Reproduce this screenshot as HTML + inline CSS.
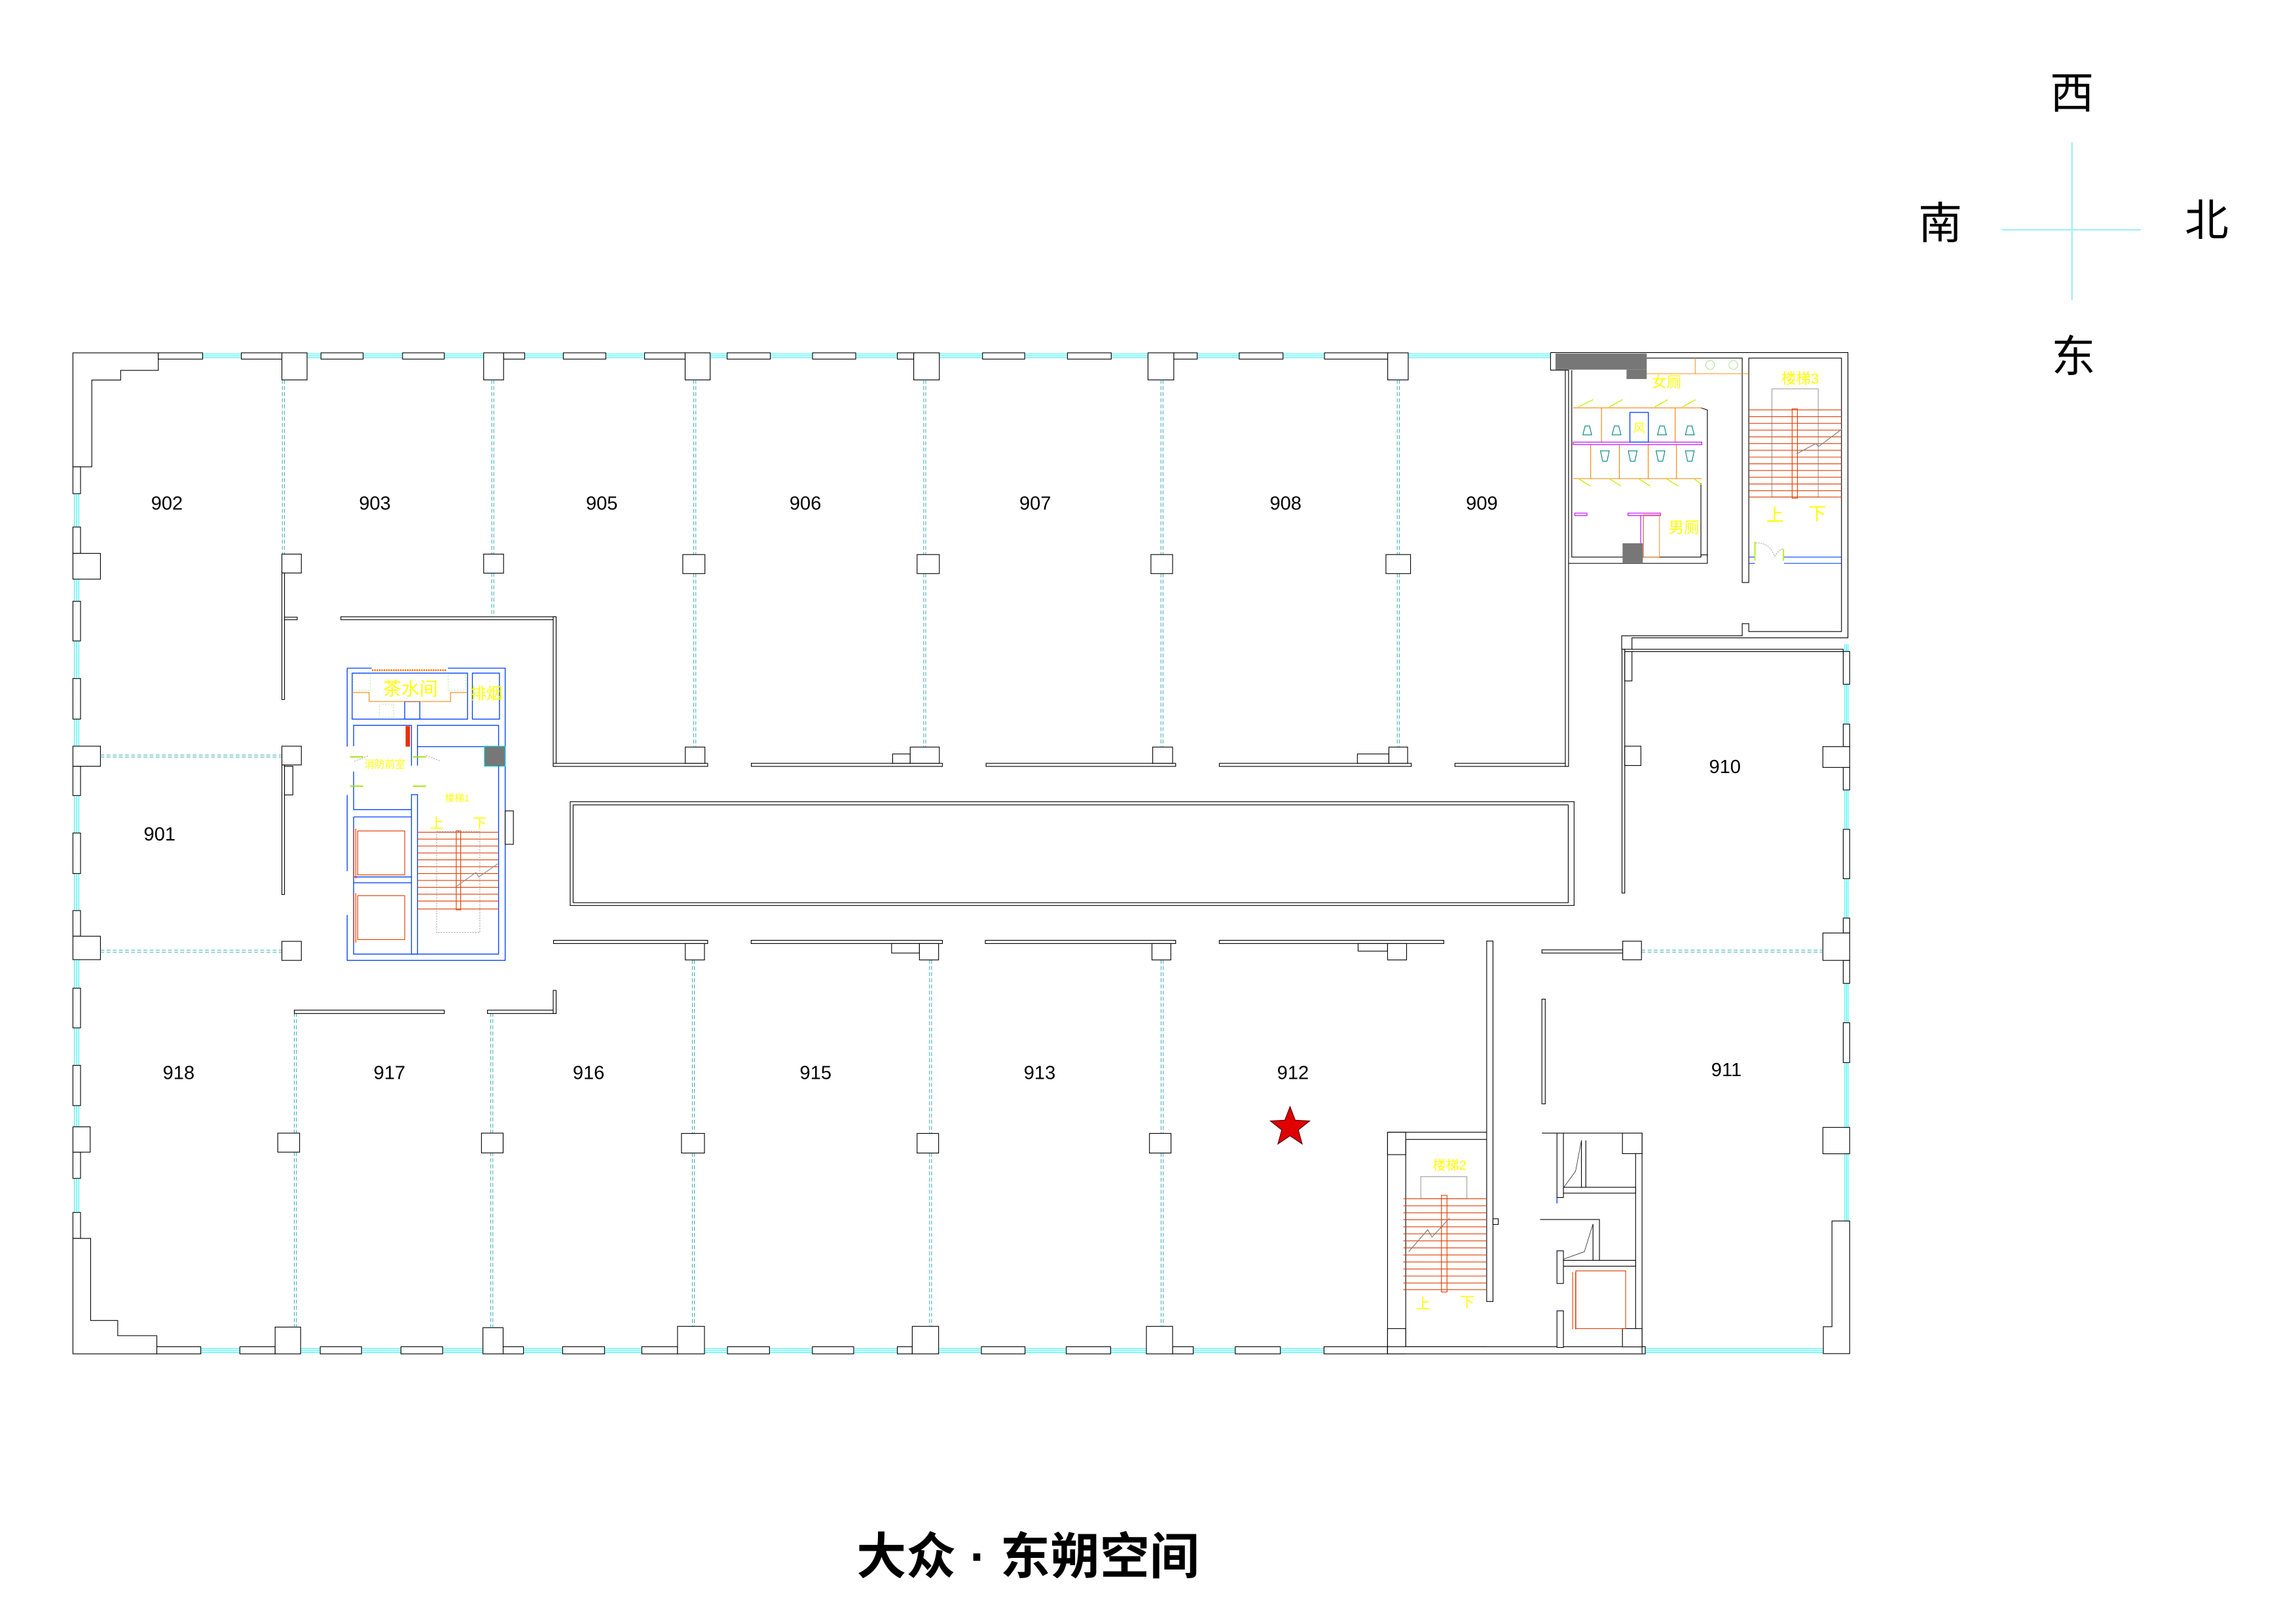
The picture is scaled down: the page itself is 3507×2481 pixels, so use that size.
<!DOCTYPE html>
<html><head><meta charset="utf-8"><style>
html,body{margin:0;padding:0;background:#fff;}
svg{display:block;}
.w{fill:#fff;stroke:#000;stroke-width:.5}
.l{fill:none;stroke:#000;stroke-width:.5}
.c{stroke:#00f0f0;stroke-width:.4;fill:none}
.d{stroke:#009090;stroke-width:.35;stroke-dasharray:2.6 1.6;fill:none}
.b{fill:none;stroke:#0040ff;stroke-width:.6}
.r{stroke:#e03c00;stroke-width:.5;fill:none}
.y{fill:#ffff00;font-family:"Liberation Sans","Noto Sans CJK SC",sans-serif}
.n{font-family:"Liberation Sans",sans-serif;font-size:13px;fill:#000;text-anchor:middle}
.k{font-family:"Liberation Sans","Noto Sans CJK SC",sans-serif;fill:#000;text-anchor:middle}
</style></head><body>
<svg width="3507" height="2481" viewBox="0 0 1568 1109.3" preserveAspectRatio="none" xmlns="http://www.w3.org/2000/svg">
<rect width="1568" height="1109.3" fill="#fff"/>
<!-- compass -->
<line x1="1367" y1="157" x2="1462" y2="157" stroke="#a0f0f8" stroke-width="1"/>
<line x1="1415" y1="97" x2="1415" y2="205" stroke="#a0f0f8" stroke-width="1"/>
<text class="k" x="1415" y="74" font-size="30">西</text>
<text class="k" x="1325" y="163" font-size="30">南</text>
<text class="k" x="1507" y="161" font-size="30">北</text>
<text class="k" x="1416" y="254" font-size="30">东</text>
<text class="k" x="702" y="1075" font-size="34" font-weight="bold">大众 · 东朔空间</text>

<!-- window cyan lines -->
<g class="c">
<path d="M50 241.8H1059M50 243.1H1059M50 244.4H1059"/>
<path d="M107 921.2H1263M107 922.5H1263M107 923.8H1263"/>
<path d="M50.8 318V846M52.3 318V846M53.8 318V846"/>
<path d="M1259.9 440V834M1261 440V834M1262.1 440V834"/>
</g>
<!-- top wall -->
<polygon class="w" points="49.8,241 108.1,241 108.1,253 82.4,253 82.4,259.6 62.7,259.6 62.7,318.9 49.8,318.9"/>
<g class="w">
<rect x="108.1" y="241" width="30.3" height="4.3"/><rect x="164.8" y="241" width="27.7" height="4.3"/>
<rect x="219.2" y="241" width="28.8" height="4.3"/><rect x="274.9" y="241" width="28.5" height="4.3"/>
<rect x="343.9" y="241" width="14.4" height="4.3"/><rect x="384.7" y="241" width="29" height="4.3"/>
<rect x="440.2" y="241" width="27.7" height="4.3"/><rect x="496.6" y="241" width="29.5" height="4.3"/>
<rect x="554.9" y="241" width="29.5" height="4.3"/><rect x="612.8" y="241" width="11.2" height="4.3"/>
<rect x="671" y="241" width="28.8" height="4.3"/><rect x="729" y="241" width="29.9" height="4.3"/>
<rect x="801.6" y="241" width="16" height="4.3"/><rect x="846.3" y="241" width="29.9" height="4.3"/>
<rect x="904.5" y="241" width="43.2" height="4.3"/>
<rect x="192.5" y="241" width="17.2" height="18.5"/><rect x="330.3" y="241" width="13.6" height="18.5"/>
<rect x="467.9" y="241" width="17.1" height="18.5"/><rect x="624" y="241" width="17.5" height="18.5"/>
<rect x="784" y="241" width="17.6" height="18.5"/><rect x="947.7" y="241" width="14" height="18.5"/>
</g>
<!-- left wall -->
<g class="w">
<rect x="49.8" y="318.9" width="5.2" height="18.3"/><rect x="49.8" y="360" width="5.2" height="18"/>
<rect x="49.8" y="410.7" width="5.2" height="27.1"/><rect x="49.8" y="463.5" width="5.2" height="27.7"/>
<rect x="49.8" y="523.4" width="5.2" height="20"/><rect x="49.8" y="569" width="5.2" height="27.7"/>
<rect x="49.8" y="622" width="5.2" height="17.5"/><rect x="49.8" y="675" width="5.2" height="27.1"/>
<rect x="49.8" y="727.7" width="5.2" height="27.5"/><rect x="49.8" y="787" width="5.2" height="17.9"/>
<rect x="49.8" y="828.2" width="5.2" height="17.7"/>
<rect x="49.8" y="378" width="18.8" height="17.6"/><rect x="49.8" y="509.7" width="18.8" height="13.7"/>
<rect x="49.8" y="639.5" width="18.8" height="16"/><rect x="49.8" y="769.7" width="11.8" height="17.3"/>
</g>
<polygon class="w" points="49.8,924.8 49.8,845.9 61.9,845.9 61.9,902 80.4,902 80.4,912.4 107.1,912.4 107.1,924.8"/>
<!-- bottom wall -->
<g class="w">
<rect x="107.1" y="919.9" width="30" height="4.9"/><rect x="163.8" y="919.9" width="24.1" height="4.9"/>
<rect x="218.7" y="919.9" width="28.2" height="4.9"/><rect x="273.8" y="919.9" width="28.5" height="4.9"/>
<rect x="343.6" y="919.9" width="13.9" height="4.9"/><rect x="384.2" y="919.9" width="28.7" height="4.9"/>
<rect x="438.3" y="919.9" width="24.4" height="4.9"/><rect x="496.8" y="919.9" width="28.7" height="4.9"/>
<rect x="554.8" y="919.9" width="28.2" height="4.9"/><rect x="612.8" y="919.9" width="10.2" height="4.9"/>
<rect x="670.2" y="919.9" width="29.8" height="4.9"/><rect x="728.2" y="919.9" width="30.3" height="4.9"/>
<rect x="800.8" y="919.9" width="14.1" height="4.9"/><rect x="843.6" y="919.9" width="30.8" height="4.9"/>
<rect x="904.2" y="919.9" width="43.4" height="4.9"/>
<rect x="187.9" y="906.5" width="17.4" height="18.3"/><rect x="329.8" y="906.9" width="13.8" height="17.9"/>
<rect x="462.7" y="906" width="18.4" height="18.8"/><rect x="623" y="906" width="18" height="18.8"/>
<rect x="782.9" y="906" width="17.9" height="18.8"/>
</g>
<polygon class="w" points="1263.2,834 1251.1,834 1251.1,906.2 1245.2,906.2 1245.2,924.6 1263.2,924.6"/>
<!-- right wall -->
<g class="w">
<rect x="1258.8" y="445" width="4.4" height="22.4"/><rect x="1258.8" y="494.6" width="4.4" height="15.4"/>
<rect x="1258.8" y="524.2" width="4.4" height="15.4"/><rect x="1258.8" y="566.5" width="4.4" height="33.7"/>
<rect x="1258.8" y="627.1" width="4.4" height="10.2"/><rect x="1258.8" y="656" width="4.4" height="15.7"/>
<rect x="1258.8" y="698.6" width="4.4" height="27.2"/>
<rect x="1244.9" y="510" width="18.3" height="14.2"/><rect x="1244.9" y="637.3" width="18.3" height="18.7"/>
<rect x="1244.9" y="770.1" width="18.3" height="18"/>
</g>

<!-- dashed dividers -->
<g class="d">
<path d="M192.8 259.5V378.5M194.2 259.5V378.5"/>
<path d="M335.8 259.5V378.5M337.2 259.5V378.5M335.8 391.5V421M337.2 391.5V421"/>
<path d="M473.8 259.5V378.8M475.2 259.5V378.8M473.8 391.8V510M475.2 391.8V510"/>
<path d="M630.8 259.5V378.8M632.2 259.5V378.8M630.8 391.8V510M632.2 391.8V510"/>
<path d="M792.8 259.5V378.8M794.2 259.5V378.8M792.8 391.8V510M794.2 391.8V510"/>
<path d="M954.2 259.5V378.8M955.6 259.5V378.8M954.2 391.8V510M955.6 391.8V510"/>
<path d="M68.6 515.7H192.5M68.6 517.1H192.5M68.6 649.1H192.5M68.6 650.5H192.5"/>
<path d="M1121 649H1245M1121 650.4H1245"/>
<path d="M201 692V774M202.4 692V774M201 787V906.5M202.4 787V906.5"/>
<path d="M335.2 692V774M336.6 692V774M335.2 787V907M336.6 787V907"/>
<path d="M472.8 655.7V774M474.2 655.7V774M472.8 787.6V906M474.2 787.6V906"/>
<path d="M634.8 655.7V774M636.2 655.7V774M634.8 787.6V906M636.2 787.6V906"/>
<path d="M793 655.7V774M794.4 655.7V774M793 787.6V906M794.4 787.6V906"/>
</g>

<!-- interior walls & pillars -->
<g class="w">
<rect x="192.5" y="378.5" width="13.3" height="12.9"/><rect x="330.3" y="378.5" width="13.6" height="13"/>
<rect x="466.3" y="378.8" width="15.1" height="13"/><rect x="626.3" y="378.8" width="15.2" height="13"/>
<rect x="786" y="378.8" width="14.8" height="13"/><rect x="946.5" y="378.8" width="16.8" height="13"/>
<rect x="192.5" y="391.4" width="1.8" height="86.4"/><rect x="194.3" y="421.6" width="8.7" height="1.7"/>
<rect x="232.8" y="421.3" width="147" height="2"/><rect x="377.8" y="421.3" width="2" height="102.2"/>
<rect x="377.8" y="521.4" width="105.5" height="2.1"/><rect x="513.1" y="521.4" width="130.5" height="2.1"/>
<rect x="673.4" y="521.4" width="129.5" height="2.1"/><rect x="832.7" y="521.4" width="131.1" height="2.1"/>
<rect x="993.6" y="521.4" width="77.4" height="2.1"/>
<rect x="468" y="510.3" width="13.4" height="11.1"/><rect x="609.6" y="515" width="12" height="6.4"/>
<rect x="621.6" y="510.3" width="19.9" height="11.1"/><rect x="787.2" y="510.3" width="13.6" height="11.1"/>
<rect x="927" y="515" width="21.5" height="6.4"/><rect x="948.5" y="510.3" width="12.8" height="11.1"/>
<rect x="192.5" y="509.7" width="13.3" height="12.8"/><rect x="192.5" y="522.5" width="1.8" height="88.5"/>
<rect x="194.3" y="523.4" width="5.7" height="19.6"/><rect x="192.5" y="643" width="13.3" height="13"/>
<rect x="378" y="642.3" width="105.3" height="2.2"/><rect x="513" y="642.3" width="130.6" height="2.2"/>
<rect x="672.9" y="642.3" width="130" height="2.2"/><rect x="832.7" y="642.3" width="153.3" height="2.2"/>
<rect x="468" y="644.5" width="13.1" height="11.2"/><rect x="608.9" y="644.5" width="19" height="6.5"/>
<rect x="627.9" y="644.5" width="13.1" height="11.2"/><rect x="786.7" y="644.5" width="12.9" height="11.2"/>
<rect x="927.5" y="644.5" width="20.1" height="5.2"/><rect x="947.6" y="644.5" width="13" height="11.2"/>
<rect x="189.7" y="774" width="14.9" height="13"/><rect x="328.8" y="774" width="14.8" height="13.5"/>
<rect x="465.4" y="774.2" width="15.7" height="13.4"/><rect x="626.3" y="774.2" width="14.7" height="13.4"/>
<rect x="785" y="774.2" width="14.7" height="13.4"/>
<rect x="201" y="690" width="102.4" height="2.3"/><rect x="332.9" y="690" width="46.9" height="2.3"/>
<rect x="377.8" y="676.5" width="2" height="15.8"/>
<!-- 909 right wall -->
<rect x="1069" y="252.8" width="2.2" height="270.7"/>
<!-- 910 -->
<rect x="1107.7" y="443.5" width="151.1" height="1.6"/><rect x="1107.7" y="443.5" width="1.9" height="166.5"/>
<rect x="1109.6" y="445.1" width="4.9" height="20"/><rect x="1109.6" y="509.7" width="11" height="13.2"/>
<rect x="1053" y="648.8" width="55.2" height="2.2"/><rect x="1108.2" y="642.9" width="12.8" height="12.7"/>
<rect x="1053" y="682.5" width="2.3" height="71.5"/>
<!-- stair2 -->
<rect x="1015.3" y="642.8" width="4.3" height="246.2"/>
<rect x="1019.6" y="832.5" width="3.6" height="3.9"/>
</g>
<!-- island -->
<rect class="l" x="389.4" y="547.6" width="685.6" height="70.9"/>
<rect class="l" x="391.4" y="549.8" width="679.6" height="66.8"/>

<!-- stair 2 block -->
<path class="l" d="M947.6 773.4H1015.3M960 778.3H1015.3M947.6 773.4V924.8M960 778.3V919.9H1015.3"/>
<rect class="w" x="947.6" y="773.4" width="12.4" height="15.3"/><rect class="w" x="947.6" y="907.5" width="12.4" height="17.3"/>
<rect x="947.6" y="919.9" width="176" height="4.9" class="w"/>
<rect x="970.3" y="803.8" width="31.5" height="15" fill="none" stroke="#888" stroke-width=".4"/>
<g class="r"><path d="M958.4 818.8H1015.3M958.4 823.6H1015.3M958.4 828.4H1015.3M958.4 833.2H1015.3M958.4 838H1015.3M958.4 842.8H1015.3M958.4 847.6H1015.3M958.4 852.4H1015.3M958.4 857.2H1015.3M958.4 862H1015.3M958.4 866.8H1015.3M958.4 871.6H1015.3M958.4 876.4H1015.3M958.4 880.9H1015.3"/>
<rect x="984.4" y="816.5" width="3.8" height="66"/></g>
<path d="M962 855L975 840L978 845L990 832" stroke="#777" stroke-width=".5" fill="none"/>
<text class="y" x="990" y="799" font-size="9" text-anchor="middle">楼梯2</text>
<text class="y" x="972" y="894" font-size="10" text-anchor="middle">上</text>
<text class="y" x="1002" y="893" font-size="10" text-anchor="middle">下</text>
<!-- elevator block right -->
<path class="l" d="M1053 774H1121.4V924.5M1117 788V907.5"/>
<rect class="w" x="1108" y="774" width="13.4" height="14"/><rect class="w" x="1108" y="907.5" width="13.4" height="12.5"/>
<rect class="w" x="1063.3" y="774" width="4.4" height="44"/><rect class="w" x="1063.3" y="854.4" width="4.4" height="22.3"/>
<rect class="w" x="1063.3" y="895.4" width="4.4" height="25"/>
<rect class="w" x="1067.7" y="811" width="49.3" height="4"/><rect class="w" x="1067.7" y="860.9" width="49.3" height="4"/>
<path class="l" d="M1051.8 833H1092.3V860.9M1087.9 836.3V860.9M1080 779V811M1083 779V811"/>
<path d="M1068 811L1076 800L1080 779M1068 860L1082 855L1087.9 836" stroke="#000" stroke-width=".3" fill="none"/>
<rect class="r" x="1076.2" y="868.1" width="34" height="39.4"/><path class="r" d="M1074 869V908M1076 869V908"/>
<path class="b" d="M1063.3 818V822M1063.3 854V855M1063.3 895V896"/>

<!-- central core -->
<path class="b" d="M237.1 456.4H253.8M305.9 456.4H345V656H237.1V625M237.1 456.4V510M237.1 543V595"/>
<path d="M254 457.8H305" stroke="#ff7000" stroke-width="1.2" stroke-dasharray="1 .6"/>
<rect class="b" x="240.5" y="459.8" width="78.8" height="31.4"/>
<rect class="b" x="322.6" y="459.8" width="18.5" height="31.4"/>
<rect class="b" x="276.4" y="479.2" width="10.3" height="12"/>
<path d="M240.5 473H252.1V479.2H307.7V473H319.3" stroke="#ff8000" stroke-width=".5" fill="none"/>
<rect x="241" y="460.5" width="12" height="11" fill="none" stroke="#90e060" stroke-width=".3" stroke-dasharray="1 1"/>
<rect x="306" y="460.5" width="12" height="11" fill="none" stroke="#90e060" stroke-width=".3" stroke-dasharray="1 1"/>
<rect x="259" y="481" width="10" height="9" fill="none" stroke="#90e060" stroke-width=".3" stroke-dasharray="1 1"/>
<path class="b" d="M241.5 509.7V495.5H281V523M285.1 523V495.5H340.5V509.7M285.1 510H330.8M241.5 527V553H281M241.5 558H281"/>
<rect x="330.8" y="509.7" width="14.2" height="13.7" fill="#777" stroke="#00e0e0" stroke-width=".5"/>
<rect x="277" y="496" width="3" height="14" fill="#e83000"/>
<rect class="b" x="281" y="542.8" width="4.1" height="108.9"/>
<path class="b" d="M241.5 558V651.7H340.5V523M241.5 599H281M241.5 603H281"/>
<rect class="r" x="244.3" y="567.6" width="32.1" height="30"/><rect class="r" x="244.3" y="611.8" width="32.1" height="30"/>
<path class="r" d="M241.7 566V600M243 566V600M241.7 610V644M243 610V644"/>
<path d="M242 520L252 516M291 516L301 520" stroke="#999" stroke-width=".4" stroke-dasharray="1 .8" fill="none"/>
<path d="M239 517H248M239 537H248M282 517H291M282 537H291" stroke="#a0e000" stroke-width=".8"/>
<g class="r"><path d="M285.1 568.5H340.6M285.1 573.2H340.6M285.1 577.9H340.6M285.1 582.6H340.6M285.1 587.3H340.6M285.1 592H340.6M285.1 596.7H340.6M285.1 601.4H340.6M285.1 606.1H340.6M285.1 610.8H340.6M285.1 615.5H340.6M285.1 620.9H340.6"/>
<rect x="311.6" y="567.5" width="3" height="54"/></g>
<rect x="298.2" y="568" width="29.5" height="69" fill="none" stroke="#888" stroke-width=".35" stroke-dasharray="1 .8"/>
<path d="M311 606L325 596L327 599L340 590" stroke="#888" stroke-width=".5" fill="none"/>
<rect class="w" x="345" y="553.9" width="5.6" height="22.8"/>
<text class="y" x="280.3" y="474.8" font-size="12.5" text-anchor="middle">茶水间</text>
<text class="y" x="332.1" y="477.5" font-size="11" text-anchor="middle">排烟</text>
<text class="y" x="262.8" y="524.5" font-size="7" text-anchor="middle">消防前室</text>
<text class="y" x="312.3" y="547.5" font-size="6.5" text-anchor="middle">楼梯1</text>
<text class="y" x="298.2" y="565.5" font-size="9.5" text-anchor="middle">上</text>
<text class="y" x="327.7" y="565.5" font-size="9.5" text-anchor="middle">下</text>

<!-- toilet & stair 3 -->
<path class="l" d="M1058.9 240.8H1262V435.7H1114.5V443.5M1058.9 240.8V252.8H1069M1073.4 252.8V380.5H1161.6V379H1166V384.8H1071.2M1124.6 244.6H1189.8V397.9H1194.3V244.6H1257.6V431.4H1194.3V426H1189.8V434.3H1107.5V443.5"/>
<path class="l" d="M1161.6 380.5V330M1166 380.5V280L1161.6 278.6"/>
<rect x="1062.3" y="241.5" width="62.3" height="11" fill="#777"/>
<rect x="1110.8" y="252.5" width="13.8" height="6.4" fill="#777"/>
<path d="M1124.6 255.3H1194.3M1157.7 244.6V255.3" stroke="#ff8000" stroke-width=".4" fill="none"/>
<circle cx="1167.9" cy="249.3" r="3" fill="none" stroke="#a0e080" stroke-width=".4"/>
<circle cx="1183.7" cy="249.3" r="3" fill="none" stroke="#a0e080" stroke-width=".4"/>
<path d="M1074.4 278.6H1162.2M1074.4 326.9H1162.2M1093.7 278.6V302M1144 278.6V302M1086.3 303.7V326.9M1105.9 303.7V326.9M1125.6 303.7V326.9M1144.9 303.7V326.9" stroke="#ff8000" stroke-width=".5" fill="none"/>
<rect x="1074.4" y="302" width="87.8" height="1.7" fill="none" stroke="#c000ff" stroke-width=".5"/>
<rect class="b" x="1113.1" y="281.7" width="12.6" height="20.3"/>
<path d="M1078 278L1088 273M1099 278L1108 273M1130 278L1139 273M1149 278L1158 273M1078 327L1086 332M1099 327L1107 332M1119 327L1127 332M1138 327L1146 332M1157 327L1162 331" stroke="#c0f000" stroke-width=".6" fill="none"/>
<g fill="none" stroke="#008080" stroke-width=".5">
<path d="M1081 297H1087L1085.5 291H1082.5Z"/><path d="M1101 297H1107L1105.5 291H1102.5Z"/><path d="M1132 297H1138L1136.5 291H1133.5Z"/><path d="M1151 297H1157L1155.5 291H1152.5Z"/>
<path d="M1093 308H1099L1097.5 315H1094.5Z"/><path d="M1112 308H1118L1116.5 315H1113.5Z"/><path d="M1131 308H1137L1135.5 315H1132.5Z"/><path d="M1151 308H1157L1155.5 315H1152.5Z"/>
</g>
<path d="M1075.5 350.5H1083.8V352.2H1075.5ZM1111.8 350.5H1134V352.2H1111.8ZM1120.5 352.2V380M1122.3 352.2V380" stroke="#c000ff" stroke-width=".5" fill="none"/>
<rect x="1122.3" y="351.5" width="11" height="29" fill="none" stroke="#ff8000" stroke-width=".4"/>
<rect x="1108.1" y="371.1" width="13.8" height="13.3" fill="#777"/>
<text class="y" x="1138.2" y="264.5" font-size="10" text-anchor="middle">女厕</text>
<text class="y" x="1150" y="364" font-size="10.5" text-anchor="middle">男厕</text>
<text class="y" x="1119.4" y="295" font-size="8" text-anchor="middle">风</text>
<rect x="1210.1" y="265.6" width="31.6" height="73.9" fill="none" stroke="#888" stroke-width=".4"/>
<g class="r"><path d="M1194.3 280H1257.6M1194.3 284.6H1257.6M1194.3 289.2H1257.6M1194.3 293.8H1257.6M1194.3 298.4H1257.6M1194.3 303H1257.6M1194.3 307.6H1257.6M1194.3 312.2H1257.6M1194.3 316.8H1257.6M1194.3 321.4H1257.6M1194.3 326H1257.6M1194.3 330.6H1257.6M1194.3 335.2H1257.6M1194.3 339.5H1257.6"/>
<rect x="1223.9" y="279.3" width="3.6" height="61"/></g>
<path d="M1227 310L1240 303L1242 305L1258 293" stroke="#888" stroke-width=".6" fill="none"/>
<text class="y" x="1229.4" y="262" font-size="10" text-anchor="middle">楼梯3</text>
<text class="y" x="1212.3" y="356" font-size="12" text-anchor="middle">上</text>
<text class="y" x="1241" y="355" font-size="12" text-anchor="middle">下</text>
<path d="M1218.3 380.5H1257.6M1218.3 384.8H1257.6M1194.3 380.5H1198.5M1194.3 384.8H1198.5" stroke="#0040ff" stroke-width=".5"/>
<path d="M1198.5 370V383M1218 375V383" stroke="#b0f000" stroke-width=".8"/>
<path d="M1199 371Q1208 370 1212 380Q1215 375 1218 375" stroke="#888" stroke-width=".35" stroke-dasharray="1 .7" fill="none"/>

<!-- room numbers -->
<g class="n">
<text x="114" y="348">902</text><text x="256" y="348">903</text><text x="411" y="348">905</text>
<text x="550" y="348">906</text><text x="707" y="348">907</text><text x="878" y="348">908</text>
<text x="1012" y="348">909</text><text x="1178" y="528">910</text><text x="109" y="574">901</text>
<text x="122" y="737">918</text><text x="266" y="737">917</text><text x="402" y="737">916</text>
<text x="557" y="737">915</text><text x="710" y="737">913</text><text x="883" y="737">912</text>
<text x="1179" y="735">911</text>
</g>
<!-- star -->
<polygon points="881,756 884.5,765.2 894.3,765.7 886.6,771.8 889.2,781.3 881,775.8 872.8,781.3 875.4,771.8 867.7,765.7 877.5,765.2" fill="#e00000" stroke="#600" stroke-width=".6"/>
</svg>
</body></html>
